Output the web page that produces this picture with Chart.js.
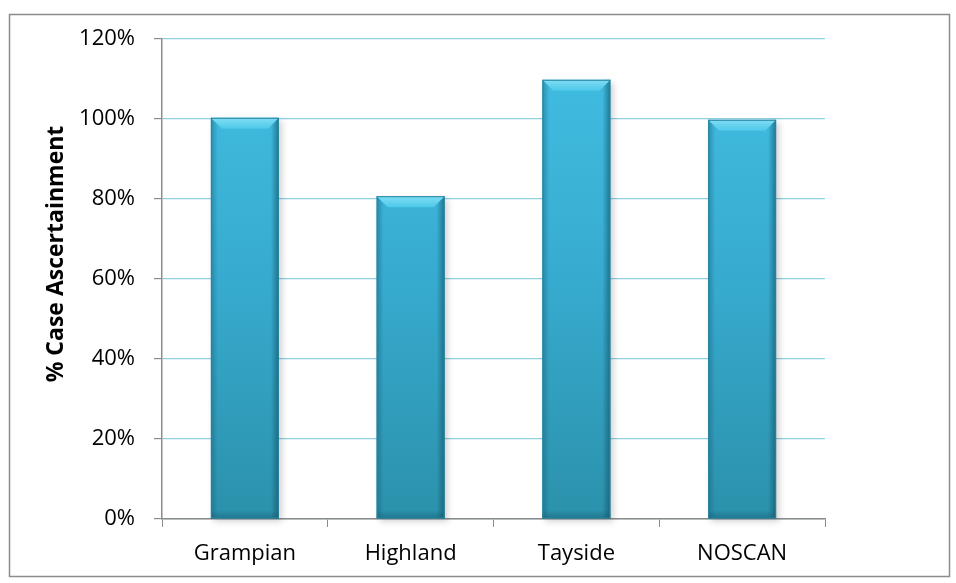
<!DOCTYPE html>
<html>
<head>
<meta charset="utf-8">
<script src="https://cdn.jsdelivr.net/npm/chart.js@4"></script>
<style>
html,body{margin:0;padding:0;background:#fff;}
#wrap{width:956px;height:583px;position:relative;}
</style>
</head>
<body>
<div id="wrap"><canvas id="c" width="956" height="583"></canvas></div>
<script>
const categories = ["Grampian", "Highland", "Tayside", "NOSCAN"];
const caseAscertainment = [100.3, 80.7, 109.8, 99.8];
const yTickValues = [0, 20, 40, 60, 80, 100, 120];
const yTitle = "% Case Ascertainment";

const FONT = "'Open Sans', 'Liberation Sans', sans-serif";

const borderPlugin = {
  id: 'outerBorder',
  beforeDraw(chart) {
    const ctx = chart.ctx;
    ctx.save();
    ctx.fillStyle = '#fff';
    ctx.fillRect(0, 0, chart.width, chart.height);
    ctx.strokeStyle = '#8c8c8c';
    ctx.lineWidth = 1.5;
    ctx.strokeRect(9.5, 14.5, 940, 562);
    ctx.restore();
  },
  afterDraw(chart) {
    const ctx = chart.ctx;
    ctx.save();
    ctx.translate(56, 254);
    ctx.rotate(-Math.PI / 2);
    ctx.font = "bold 23px " + FONT;
    ctx.fillStyle = '#000';
    ctx.textAlign = 'center';
    ctx.textBaseline = 'middle';
    ctx.fillText(yTitle, 0, 0);
    ctx.restore();
  }
};

const barStylePlugin = {
  id: 'barStyle',
  beforeDatasetsDraw(chart) {
    const ctx = chart.ctx;
    ctx.save();
    chart.getDatasetMeta(0).data.forEach(bar => {
      const left = bar.x - bar.width / 2;
      const h = bar.base - bar.y;
      ctx.fillStyle = 'rgba(0,0,0,0.18)';
      ctx.filter = 'blur(3px)';
      ctx.fillRect(left + 3, bar.y + 3, bar.width, h);
    });
    ctx.filter = 'none';
    ctx.restore();
  },
  afterDatasetsDraw(chart) {
    const ctx = chart.ctx;
    ctx.save();
    chart.getDatasetMeta(0).data.forEach(bar => {
      const left = bar.x - bar.width / 2;
      const right = bar.x + bar.width / 2;
      const top = bar.y;
      const bottom = bar.base;
      const bev = 11;
      let g = ctx.createLinearGradient(left, 0, left + 7, 0);
      g.addColorStop(0, 'rgba(20,90,115,0.45)');
      g.addColorStop(1, 'rgba(20,90,115,0)');
      ctx.fillStyle = g;
      ctx.fillRect(left, top, 7, bottom - top);
      g = ctx.createLinearGradient(right - 8, 0, right, 0);
      g.addColorStop(0, 'rgba(15,75,95,0)');
      g.addColorStop(1, 'rgba(15,75,95,0.6)');
      ctx.fillStyle = g;
      ctx.fillRect(right - 8, top, 8, bottom - top);
      g = ctx.createLinearGradient(0, bottom - 8, 0, bottom);
      g.addColorStop(0, 'rgba(15,75,95,0)');
      g.addColorStop(1, 'rgba(15,75,95,0.4)');
      ctx.fillStyle = g;
      ctx.fillRect(left, bottom - 8, right - left, 8);
      ctx.beginPath();
      ctx.moveTo(left, top);
      ctx.lineTo(right, top);
      ctx.lineTo(right - bev, top + bev);
      ctx.lineTo(left + bev, top + bev);
      ctx.closePath();
      g = ctx.createLinearGradient(0, top, 0, top + bev);
      g.addColorStop(0, '#80def4');
      g.addColorStop(1, '#4ec8e9');
      ctx.fillStyle = g;
      ctx.fill();
      ctx.strokeStyle = '#2784a0';
      ctx.lineWidth = 1;
      ctx.strokeRect(left + 0.5, top + 0.5, right - left - 1, bottom - top - 1);
    });
    ctx.restore();
  }
};

function barFill(context) {
  const chart = context.chart;
  const area = chart.chartArea;
  if (!area) return '#3bb5d8';
  const g = chart.ctx.createLinearGradient(0, area.top, 0, area.bottom);
  g.addColorStop(0, '#41bfe3');
  g.addColorStop(0.5, '#37abcf');
  g.addColorStop(1, '#2b91ab');
  return g;
}

new Chart(document.getElementById('c'), {
  type: 'bar',
  data: {
    labels: categories,
    datasets: [{
      data: caseAscertainment,
      backgroundColor: barFill,
      borderWidth: 0,
      categoryPercentage: 1,
      barPercentage: 0.41
    }]
  },
  plugins: [borderPlugin, barStylePlugin],
  options: {
    responsive: false,
    animation: false,
    devicePixelRatio: 1,
    layout: { padding: { left: 0, top: 39, right: 131, bottom: 0 } },
    plugins: { legend: { display: false }, tooltip: { enabled: false } },
    scales: {
      x: {
        offset: true,
        grid: { display: true, drawOnChartArea: false, drawTicks: true, tickLength: 8, offset: true, color: '#8c8c8c', tickColor: '#8c8c8c' },
        border: { color: '#8c8c8c', width: 1.5 },
        ticks: { color: '#000', font: { family: FONT, size: 22 }, padding: 14 },
        afterFit(scale) { scale.height = 64; }
      },
      y: {
        min: 0, max: 120,
        afterBuildTicks(scale) { scale.ticks = yTickValues.map(v => ({ value: v })); },
        grid: { color: '#8fd0e0', tickColor: '#8c8c8c', tickLength: 8, lineWidth: 1.2 },
        border: { color: '#8c8c8c', width: 1.5 },
        ticks: { color: '#000', font: { family: FONT, size: 22 }, padding: 19, callback: v => v + '%' },
        title: { display: false },
        afterFit(scale) { scale.width = 162; }
      }
    }
  }
});
</script>
</body>
</html>
